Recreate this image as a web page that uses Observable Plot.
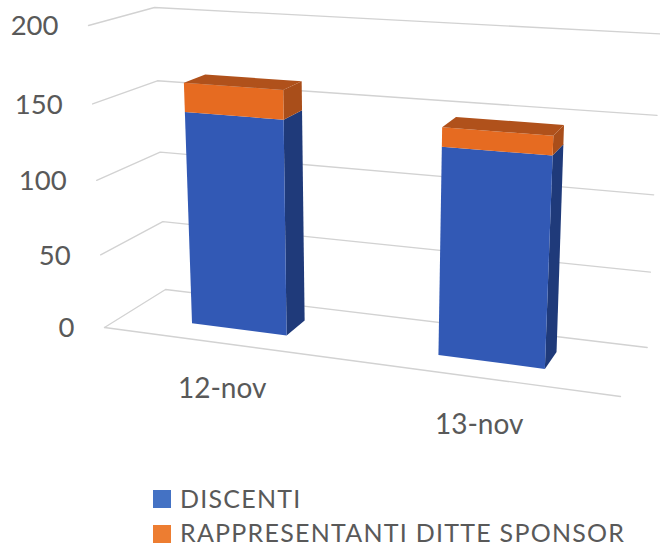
<!DOCTYPE html>
<html>
<head>
<meta charset="utf-8">
<script src="https://cdn.jsdelivr.net/npm/d3@7"></script>
<script src="https://cdn.jsdelivr.net/npm/@observablehq/plot@0.6"></script>
<style>
html,body{margin:0;padding:0;background:#fff;overflow:hidden}
#chart svg{display:block}
#legend{position:relative;width:660px;height:71px;font-family:Lato,sans-serif;font-size:25px;letter-spacing:1.25px;color:#595959}
#legend .sw{position:absolute;left:153px;width:18px;height:18px}
#legend .lb{position:absolute;left:180px;line-height:24px;white-space:nowrap}
</style>
</head>
<body>
<div id="chart"></div>
<div id="legend"></div>
<script>
const categories = ["12-nov", "13-nov"];
const discenti = [143, 134];
const sponsor = [19, 12];
const yTicks = [0, 50, 100, 150, 200];
const seriesNames = ["DISCENTI", "RAPPRESENTANTI DITTE SPONSOR"];
const legendColors = ["#4472C4", "#ED7D31"];

const frontColors = ["#3259B5", "#E66B21"];
const sideColors = ["#1F3A7A", "#A94E1A"];
const topColors = ["#2A4A98", "#B0511B"];

// 3-D box of the plot: corners on screen, [front/back][left/right][bottom/top]
const box = {
  flb: [104, 327], flt: [88, 25], frb: [620, 396], frt: [639, 58],
  blb: [165, 289], blt: [154, 7], brb: [646.7, 347], brt: [660, 33.5]
};
const valueMax = 200;
const lerp = (a, b, t) => a + (b - a) * t;
const warp = v => { const k = 1.053; return v / (v + k * (valueMax - v)); };
function project(u, v, w) {
  const t = warp(v);
  const out = [0, 1].map(i => {
    const front = lerp(lerp(box.flb[i], box.frb[i], u), lerp(box.flt[i], box.frt[i], u), t);
    const back = lerp(lerp(box.blb[i], box.brb[i], u), lerp(box.blt[i], box.brt[i], u), t);
    return lerp(front, back, w);
  });
  return {x: out[0], y: out[1]};
}

// Layout along the category axis and depth
const barSpan = [[0.1324, 0.32], [0.621, 0.832]];
const labelU = [0.3064, 0.7793];
const depth = [0.34, 0.70];

// gridlines
const grid = [];
yTicks.forEach(v => {
  [[0, v, 0], [0, v, 1], [1, v, 1]].forEach(p => grid.push({...project(...p), id: "g" + v}));
});
[[0, 0, 0], [1, 0, 0]].forEach(p => grid.push({...project(...p), id: "floor"}));

// bar faces
const faces = [];
function face(id, color, pts) {
  pts.forEach(p => faces.push({...project(...p), id, color}));
}
categories.forEach((c, i) => {
  const [u0, u1] = barSpan[i];
  const [w0, w1] = depth;
  const stack = [[0, discenti[i]], [discenti[i], discenti[i] + sponsor[i]]];
  stack.forEach(([v0, v1], s) => {
    face(`${c}-${s}-side`, sideColors[s], [[u1, v0, w0], [u1, v0, w1], [u1, v1, w1], [u1, v1, w0]]);
    face(`${c}-${s}-front`, frontColors[s], [[u0, v0, w0], [u1, v0, w0], [u1, v1, w0], [u0, v1, w0]]);
    if (s === stack.length - 1)
      face(`${c}-${s}-top`, topColors[s], [[u0, v1, w0], [u1, v1, w0], [u1, v1, w1], [u0, v1, w1]]);
  });
});

const yLabels = yTicks.map(v => ({...project(0, v, 0), text: String(v)}));
const catLabels = categories.map((c, i) => ({...project(labelU[i], 0, -0.8), text: c}));

const plot = Plot.plot({
  width: 660,
  height: 475,
  margin: 0,
  style: {background: "#fff", fontFamily: "Lato,sans-serif"},
  x: {domain: [0, 660], range: [0, 660], axis: null},
  y: {domain: [0, 475], range: [0, 475], axis: null},
  marks: [
    Plot.line(grid, {x: "x", y: "y", z: "id", stroke: "#d2d2d2", strokeWidth: 1.3, curve: "linear"}),
    Plot.line(faces, {x: "x", y: "y", z: "id", fill: "color", stroke: "none", curve: "linear"}),
    Plot.text(yLabels, {x: "x", y: "y", text: "text", textAnchor: "end", dx: -30, dy: 1, fontSize: 27.5, fill: "#595959"}),
    Plot.text(catLabels, {x: "x", y: "y", text: "text", dy: 7, fontSize: 28, fill: "#595959"})
  ]
});
document.getElementById("chart").appendChild(plot);

const legend = document.getElementById("legend");
seriesNames.forEach((name, i) => {
  const swTop = i === 0 ? 15 : 50;
  const sw = document.createElement("div");
  sw.className = "sw"; sw.style.top = swTop + "px"; sw.style.background = legendColors[i];
  const lb = document.createElement("div");
  lb.className = "lb"; lb.style.top = (i === 0 ? 11 : 45) + "px"; lb.textContent = name;
  legend.append(sw, lb);
});
</script>
</body>
</html>
